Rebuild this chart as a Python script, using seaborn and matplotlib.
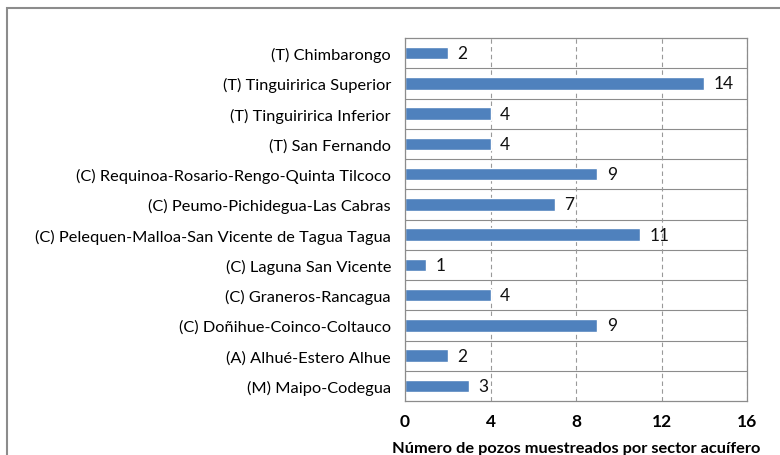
import pandas as pd
import numpy as np
import matplotlib.pyplot as plt
import seaborn as sns
from matplotlib.patches import Rectangle
from matplotlib.ticker import MultipleLocator

sectores = ["(T) Chimbarongo", "(T) Tinguiririca Superior", "(T) Tinguiririca Inferior",
            "(T) San Fernando", "(C) Requinoa-Rosario-Rengo-Quinta Tilcoco",
            "(C) Peumo-Pichidegua-Las Cabras", "(C) Pelequen-Malloa-San Vicente de Tagua Tagua",
            "(C) Laguna San Vicente", "(C) Graneros-Rancagua", "(C) Doñihue-Coinco-Coltauco",
            "(A) Alhué-Estero Alhue", "(M) Maipo-Codegua"]
pozos = [2, 14, 4, 4, 9, 7, 11, 1, 4, 9, 2, 3]

df = pd.DataFrame({"sector": sectores, "pozos": pozos})

sns.set_style("white")
plt.rcParams['font.family'] = ['Lato', 'DejaVu Sans']

fig = plt.figure(figsize=(7.8, 4.56), dpi=100)
ax = fig.add_axes([405/780, 1 - 402/456, (747-405)/780, (402-39)/456])

sns.barplot(data=df, x="pozos", y="sector", color="#4F81BD", width=0.42,
            saturation=1, ax=ax, orient="h")

for i, v in enumerate(pozos):
    ax.text(v + 0.45, i, str(v), va="center", ha="left", fontsize=12.5, color="#111111")

ax.set_xlim(0, 16)
ax.set_ylim(len(sectores) - 0.5, -0.5)
ax.xaxis.set_major_locator(MultipleLocator(4))
ax.xaxis.set_minor_locator(MultipleLocator(2))
ax.set_yticks(np.arange(len(sectores)))
ax.set_yticks(np.arange(-0.5, len(sectores)), minor=True)

ax.grid(axis="x", which="major", color="#999999", linestyle=(0, (4, 3)), linewidth=0.8)
for y in np.arange(0.5, len(sectores) - 0.5):
    ax.axhline(y, color="#8c8c8c", linewidth=0.8, zorder=0)
ax.set_axisbelow(True)

for s in ax.spines.values():
    s.set_color("#8c8c8c")
    s.set_linewidth(0.9)

ax.tick_params(axis="y", which="major", length=0, labelsize=11.8, pad=10, labelcolor="#000000")
ax.tick_params(axis="y", which="minor", length=5, color="#8c8c8c", direction="out")
ax.tick_params(axis="x", which="major", length=5, color="#8c8c8c", direction="out",
               labelsize=12.5, pad=4, labelcolor="#000000")
ax.tick_params(axis="x", which="minor", length=5, color="#8c8c8c", direction="in")
for lab in ax.get_xticklabels():
    lab.set_fontweight("bold")

ax.set_ylabel("")
ax.set_xlabel("Número de pozos muestreados por sector acuífero", fontsize=11.8,
              fontweight="bold", labelpad=8, color="#000000")

fig.patches.append(Rectangle((7/780, -0.1), 1.1, 1 - 9/456 + 0.1, transform=fig.transFigure,
                             fill=False, edgecolor="#8c8c8c", linewidth=1.5, clip_on=False))

fig.savefig("out.png", dpi=100)
